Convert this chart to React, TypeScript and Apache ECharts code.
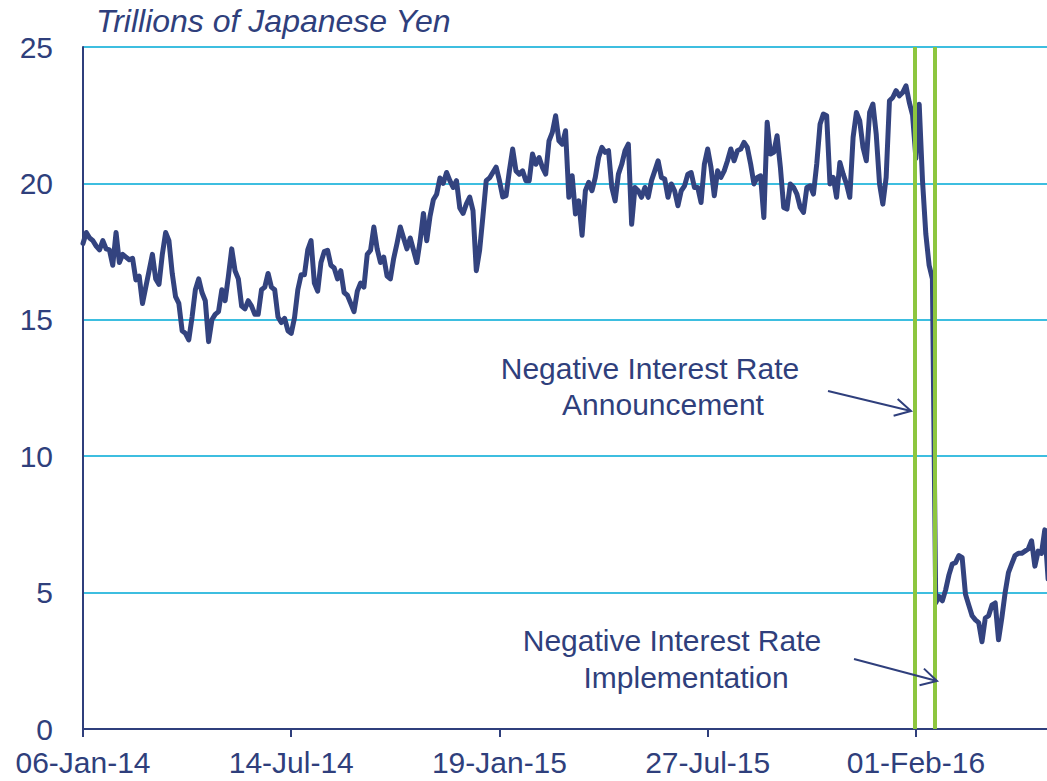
import React, { useEffect, useRef } from "react";
import * as echarts from "echarts";

// ---- Data ----
const START_UTC = Date.UTC(2014, 0, 6); // 06-Jan-14
const STEP_DAYS = 3;
const X_MAX_DAYS = 875;
const tickDays = [0, 189, 378, 567, 756];
const MONTHS = ["Jan", "Feb", "Mar", "Apr", "May", "Jun", "Jul", "Aug", "Sep", "Oct", "Nov", "Dec"];

const values2014H1 = [
  17.8, 18.2, 18.0, 17.9, 17.7, 17.56, 17.9, 17.6, 17.56, 17.0, 18.2, 17.1, 17.4, 17.3, 17.2, 17.25,
  16.46, 16.6, 15.6, 16.2, 16.8, 17.4, 16.5, 16.3, 17.4, 18.2, 17.9, 16.7, 15.85, 15.6, 14.6, 14.5,
  14.26, 15.1, 16.1, 16.5, 16.0, 15.7, 14.2, 15.0, 15.2, 15.3, 16.1, 15.7, 16.6, 17.6, 16.8, 16.5,
  15.5, 15.4, 15.7, 15.5, 15.2, 15.2, 16.1, 16.2, 16.7, 16.2, 16.1, 15.1, 14.9, 15.05, 14.6, 14.5,
];
const values2014H2 = [
  15.08, 16.1, 16.65, 16.65, 17.56, 17.9, 16.35, 16.05, 17.1, 17.5, 17.55, 17.0, 16.9, 16.5, 16.8, 16.0,
  15.9, 15.6, 15.3, 16.05, 16.35, 16.2, 17.4, 17.55, 18.4, 17.6, 17.1, 17.3, 16.6, 16.5, 17.25, 17.8,
  18.4, 18.0, 17.6, 18.0, 17.55, 17.1, 17.9, 18.9, 17.9, 18.8, 19.4, 19.6, 20.2, 20.0, 20.4, 20.1,
  19.85, 20.1, 19.1, 18.9, 19.25, 19.5, 19.0, 16.8, 17.55, 18.8, 20.1, 20.2, 20.4, 20.6, 20.1, 19.5,
];
const values2015H1 = [
  19.55, 20.46, 21.26, 20.46, 20.34, 20.46, 20.1, 20.1, 21.08, 20.7, 20.95, 20.59, 20.34, 21.56, 21.87, 22.48,
  21.56, 21.44, 21.93, 19.49, 20.28, 18.88, 19.36, 18.1, 19.73, 20.04, 19.73, 20.22, 20.95, 21.32, 21.14, 21.2,
  19.85, 19.36, 20.34, 20.7, 21.2, 21.44, 18.5, 19.85, 19.73, 19.49, 19.85, 19.49, 20.1, 20.46, 20.83, 20.22,
  20.16, 19.49, 19.98, 19.73, 19.18, 19.73, 19.91, 20.34, 20.4, 19.85, 19.85, 19.3, 20.7, 21.26,
];
const values2015H2 = [
  20.59, 19.55, 20.46, 20.22, 20.46, 20.83, 21.26, 20.83, 21.2, 21.26, 21.5, 21.32, 20.71, 19.98, 20.22, 20.28,
  18.75, 22.24, 21.08, 21.14, 21.75, 20.59, 19.12, 19.06, 19.98, 19.85, 19.61, 19.12, 18.94, 19.85, 19.91, 19.61,
  20.71, 22.17, 22.54, 22.48, 19.98, 20.22, 19.49, 20.77, 20.34, 19.98, 19.49, 21.69, 22.6, 22.3, 21.32, 20.83,
  22.6, 22.91, 21.8, 19.98, 19.24, 20.22, 23.03, 23.15, 23.4, 23.21, 23.33, 23.58, 22.97, 22.5,
];
const values2016 = [
  20.92, 22.9, 20.1, 18.15, 17.0, 16.5, 4.62, 4.86, 4.7, 5.1, 5.65, 6.05, 6.1, 6.36, 6.28, 4.94,
  4.54, 4.15, 4.0, 3.9, 3.2, 4.07, 4.15, 4.54, 4.62, 3.27, 4.07, 5.0, 5.73, 6.05, 6.36, 6.44,
  6.44, 6.52, 6.6, 6.9, 5.97, 6.52, 6.44, 7.3, 5.5,
];
const values = [...values2014H1, ...values2014H2, ...values2015H1, ...values2015H2, ...values2016];

// Policy event markers (days since 06-Jan-14)
const eventDays = [755, 773];

const TITLE = "Trillions of Japanese Yen";
const annoAnnouncement = ["Negative Interest Rate", "Announcement"];
const annoImplementation = ["Negative Interest Rate", "Implementation"];

// ---- Styles ----
const NAVY = "#2F3F7C";
const LINE = "#33437F";
const GRID = "#3DBEE0";
const GREEN = "#8DC63F";
const FONT = "'Liberation Sans', Arial, sans-serif";

function fmtDate(d: number): string {
  const dt = new Date(START_UTC + Math.round(d) * 86400000);
  const dd = String(dt.getUTCDate()).padStart(2, "0");
  const yy = String(dt.getUTCFullYear()).slice(2);
  return `${dd}-${MONTHS[dt.getUTCMonth()]}-${yy}`;
}

function arrow(x1: number, y1: number, x2: number, y2: number) {
  const ang = Math.atan2(y2 - y1, x2 - x1);
  const L = 18;
  const spread = 0.5;
  const a1 = [x2 - L * Math.cos(ang - spread), y2 - L * Math.sin(ang - spread)];
  const a2 = [x2 - L * Math.cos(ang + spread), y2 - L * Math.sin(ang + spread)];
  return [
    { type: "line", shape: { x1, y1, x2, y2 }, style: { stroke: NAVY, lineWidth: 2 }, z: 10 },
    { type: "polyline", shape: { points: [a1, [x2, y2], a2] }, style: { stroke: NAVY, lineWidth: 2, fill: null }, z: 10 },
  ];
}

function textEl(text: string, x: number, y: number, size: number, italic = false, align = "center") {
  return {
    type: "text",
    x,
    y,
    z: 10,
    style: {
      text,
      fill: NAVY,
      fontSize: size,
      fontFamily: FONT,
      fontStyle: italic ? "italic" : "normal",
      align,
      verticalAlign: "middle",
    },
  };
}

export default function App() {
  const ref = useRef<HTMLDivElement>(null);

  useEffect(() => {
    if (!ref.current) return;
    const chart = echarts.init(ref.current, undefined, { renderer: "svg" });
    const option: any = {
      animation: false,
      backgroundColor: "#ffffff",
      grid: { left: 83, right: 0, top: 47, bottom: 52, containLabel: false },
      xAxis: {
        type: "value",
        min: 0,
        max: X_MAX_DAYS,
        interval: 189,
        axisLine: { show: true, onZero: false, lineStyle: { color: NAVY, width: 2 } },
        axisTick: { show: true, length: 8, customValues: tickDays, lineStyle: { color: NAVY, width: 2 } },
        axisLabel: {
          customValues: tickDays,
          formatter: (v: number) => fmtDate(v),
          fontSize: 30,
          fontFamily: FONT,
          color: NAVY,
          margin: 18,
        },
        splitLine: { show: false },
      },
      yAxis: {
        type: "value",
        min: 0,
        max: 25,
        interval: 5,
        axisLine: { show: true, lineStyle: { color: NAVY, width: 2 } },
        axisTick: { show: false },
        axisLabel: { fontSize: 30, fontFamily: FONT, color: NAVY, margin: 30 },
        splitLine: { show: true, lineStyle: { color: GRID, width: 2 } },
      },
      series: [
        {
          type: "line",
          data: [],
          z: 1,
          silent: true,
          markLine: {
            silent: true,
            symbol: "none",
            label: { show: false },
            lineStyle: { color: GREEN, width: 4, type: "solid" },
            data: eventDays.map((d) => ({ xAxis: d })),
          },
        },
        {
          type: "line",
          z: 3,
          data: values.map((v, i) => [i * STEP_DAYS, v]),
          showSymbol: false,
          symbol: "none",
          clip: true,
          lineStyle: { color: LINE, width: 5, join: "round", cap: "round" },
        },
      ],
      graphic: [
        textEl(TITLE, 96, 21, 32, true, "left"),
        textEl(annoAnnouncement[0], 650, 368, 30),
        textEl(annoAnnouncement[1], 663, 404, 30),
        textEl(annoImplementation[0], 672, 640, 30),
        textEl(annoImplementation[1], 686, 677, 30),
        ...arrow(828, 391, 911, 411),
        ...arrow(854, 659, 937, 681),
      ],
    };
    chart.setOption(option);
    return () => chart.dispose();
  }, []);

  return (
    <div
      ref={ref}
      style={{ position: "absolute", left: 0, top: 0, width: 1047, height: 781, background: "#fff" }}
    />
  );
}
